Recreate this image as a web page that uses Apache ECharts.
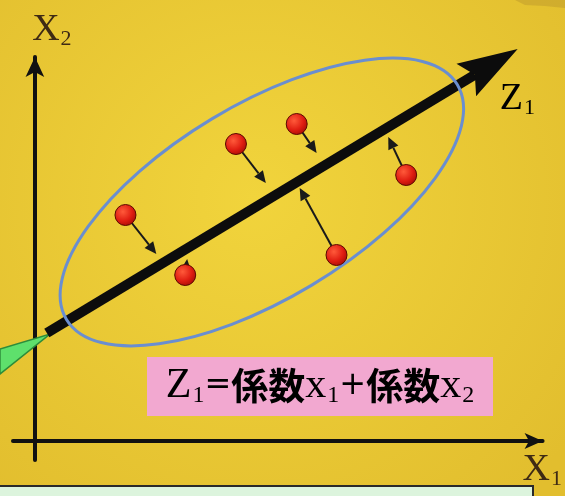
<!DOCTYPE html>
<html>
<head>
<meta charset="utf-8">
<script src="https://cdn.jsdelivr.net/npm/echarts@6/dist/echarts.min.js"></script>
<style>
    html, body { margin: 0; padding: 0; }
    #main { width: 565px; height: 496px; }
</style>
</head>
<body>
<div id="main"></div>
<script>

// 样本点 (X1, X2)
var pointX = [91, 202, 263, 151, 303, 373]
var pointY = [226, 297, 317, 166, 186, 266]

// 样本点投影到 Z1 轴的箭头终点
var projX = [122, 232, 283, 153, 266, 355]
var projY = [187, 258, 288, 182, 253, 304]

// 第一主成分 Z1 轴：起点、终点
var z1From = [12, 108]
var z1To = [485, 392]

// 数据分布椭圆：中心、半轴、倾角(度)
var ellipseCenter = [228, 239]
var ellipseRadius = [229, 97]
var ellipseAngle = 31

// 坐标轴范围
var xRange = [-22, 510]
var yRange = [-19, 384]

// 公式
var formula = '{z|Z}{s|1}{e|=}{b|係数}{x|x}{s|1}{e|+}{g|係数}{x|x}{s|2}';

//  ===============================

(function () {

    var myChart = echarts.init(document.getElementById('main'))

    var serif = 'Liberation Serif'
    var ink = '#4a1c28'
    var brown = '#3e2a14'

    function head(tip, dir, len, width, notch) {
        // 箭头多边形（带缺口）
        var nx = -dir[1], ny = dir[0]
        var bx = tip[0] - dir[0] * len, by = tip[1] - dir[1] * len
        return [
            tip,
            [bx + nx * width / 2, by + ny * width / 2],
            [tip[0] - dir[0] * (len - notch), tip[1] - dir[1] * (len - notch)],
            [bx - nx * width / 2, by - ny * width / 2]
        ]
    }

    function unit(a, b) {
        var dx = b[0] - a[0], dy = b[1] - a[1]
        var l = Math.sqrt(dx * dx + dy * dy)
        return [dx / l, dy / l]
    }

    var axisName = function (sub) {
        return '{x|X}{s|' + sub + '}'
    }
    var nameRich = {
        x: { fontFamily: serif, fontSize: 38, color: brown },
        s: { fontFamily: serif, fontSize: 22, color: brown, padding: [18, 0, 0, 1] }
    }

    var option = {
        animation: false,
        grid: { left: 13, right: 20, top: 57, bottom: 36 },
        xAxis: {
            type: 'value',
            min: xRange[0],
            max: xRange[1],
            name: axisName('1'),
            nameLocation: 'end',
            nameGap: -20,
            nameTextStyle: { rich: nameRich, padding: [58, 0, 0, 0] },
            axisLine: {
                onZero: true,
                symbol: ['none', 'arrow'],
                symbolSize: [12, 18],
                lineStyle: { color: '#111', width: 4 }
            },
            axisTick: { show: false },
            axisLabel: { show: false },
            splitLine: { show: false }
        },
        yAxis: {
            type: 'value',
            min: yRange[0],
            max: yRange[1],
            name: axisName('2'),
            nameLocation: 'end',
            nameGap: 7,
            nameTextStyle: { rich: nameRich, padding: [0, 0, 0, 34] },
            axisLine: {
                onZero: true,
                symbol: ['none', 'arrow'],
                symbolSize: [14, 20],
                lineStyle: { color: '#111', width: 4 }
            },
            axisTick: { show: false },
            axisLabel: { show: false },
            splitLine: { show: false }
        },
        graphic: [
            {
                type: 'rect', z: -10,
                shape: { x: 0, y: 0, width: 565, height: 496 },
                style: {
                    fill: {
                        type: 'radial', x: 0.45, y: 0.4, r: 0.8,
                        colorStops: [
                            { offset: 0, color: '#f1d43c' },
                            { offset: 1, color: '#e2be2e' }
                        ]
                    }
                }
            },
            {
                type: 'polygon', z: -9,
                shape: { points: [[515, 0], [565, 0], [565, 8], [545, 6], [525, 5]] },
                style: { fill: 'rgba(150,115,40,0.25)' }
            },
            {
                type: 'polygon', z: 1,
                shape: { points: [[0, 349], [50, 334], [0, 374]] },
                style: { fill: '#5ee06c', stroke: '#2e8c3a', lineWidth: 1.5 }
            },
            {
                type: 'rect', z: 1,
                shape: { x: -3, y: 486, width: 536, height: 20 },
                style: { fill: '#dcf4dd', stroke: '#2a2a2a', lineWidth: 2 }
            },
            {
                type: 'rect', z: 10,
                shape: { x: 147, y: 357, width: 346, height: 59 },
                style: { fill: '#f2a8d0' }
            },
            {
                type: 'text', z: 11,
                x: 320, y: 386,
                style: {
                    text: formula,
                    align: 'center', verticalAlign: 'middle',
                    textAlign: 'center', textVerticalAlign: 'middle',
                    rich: {
                        z: { fontFamily: serif, fontSize: 42, color: ink },
                        x: { fontFamily: serif, fontSize: 42, color: ink },
                        s: { fontFamily: serif, fontSize: 24, color: ink, padding: [20, 0, 0, 1] },
                        e: { fontFamily: 'DejaVu Sans', fontSize: 32, color: ink },
                        b: { fontFamily: 'Noto Sans CJK JP', fontWeight: 'bold', fontSize: 37, color: '#3d3be2' },
                        g: { fontFamily: 'Noto Sans CJK JP', fontWeight: 'bold', fontSize: 37, color: '#3f9c46' }
                    }
                }
            }
        ],
        series: [
            {
                // Z1 轴
                type: 'custom',
                z: 2,
                clip: false,
                data: [[z1From[0], z1From[1], z1To[0], z1To[1]]],
                renderItem: function (params, api) {
                    var p0 = api.coord([api.value(0), api.value(1)])
                    var p1 = api.coord([api.value(2), api.value(3)])
                    var d = unit(p0, p1)
                    var pts = head(p1, d, 60, 38, 10)
                    return {
                        type: 'group',
                        children: [
                            {
                                type: 'line',
                                shape: { x1: p0[0], y1: p0[1], x2: pts[2][0], y2: pts[2][1] },
                                style: { stroke: '#0c0c0c', lineWidth: 10 }
                            },
                            {
                                type: 'polygon',
                                shape: { points: pts },
                                style: { fill: '#0c0c0c' }
                            },
                            {
                                type: 'text',
                                x: p1[0] - 18, y: p1[1] + 50,
                                style: {
                                    text: '{z|Z}{s|1}',
                                    align: 'left', verticalAlign: 'middle',
                                    textAlign: 'left', textVerticalAlign: 'middle',
                                    rich: { z: nameRich.x, s: nameRich.s }
                                }
                            }
                        ]
                    }
                }
            },
            {
                // 分布椭圆
                type: 'custom',
                z: 3,
                clip: false,
                data: [[ellipseCenter[0], ellipseCenter[1]]],
                renderItem: function (params, api) {
                    var c = api.coord([api.value(0), api.value(1)])
                    var r = api.size([ellipseRadius[0], ellipseRadius[1]])
                    return {
                        type: 'ellipse',
                        x: c[0], y: c[1],
                        rotation: ellipseAngle * Math.PI / 180,
                        shape: { cx: 0, cy: 0, rx: r[0], ry: r[1] },
                        style: { fill: 'none', stroke: '#6a8ed0', lineWidth: 3 }
                    }
                }
            },
            {
                // 投影箭头
                type: 'custom',
                z: 4,
                clip: false,
                data: pointX.map(function (x, i) {
                    return [x, pointY[i], projX[i], projY[i]]
                }),
                renderItem: function (params, api) {
                    var p0 = api.coord([api.value(0), api.value(1)])
                    var p1 = api.coord([api.value(2), api.value(3)])
                    var d = unit(p0, p1)
                    var pts = head(p1, d, 12, 11, 0)
                    return {
                        type: 'group',
                        children: [
                            {
                                type: 'line',
                                shape: { x1: p0[0], y1: p0[1], x2: pts[2][0], y2: pts[2][1] },
                                style: { stroke: '#1a1a1a', lineWidth: 2 }
                            },
                            {
                                type: 'polygon',
                                shape: { points: pts },
                                style: { fill: '#1a1a1a' }
                            }
                        ]
                    }
                }
            },
            {
                // 样本点
                type: 'scatter',
                z: 5,
                symbolSize: 21,
                data: pointX.map(function (x, i) {
                    return [x, pointY[i]]
                }),
                itemStyle: {
                    opacity: 1,
                    color: {
                        type: 'radial', x: 0.38, y: 0.35, r: 0.7,
                        colorStops: [
                            { offset: 0, color: '#ff5a3a' },
                            { offset: 0.6, color: '#e01e12' },
                            { offset: 1, color: '#a80c06' }
                        ]
                    },
                    borderColor: '#5a0800',
                    borderWidth: 1
                }
            }
        ]
    }
    myChart.setOption(option)
}())
</script>
</body>
</html>
